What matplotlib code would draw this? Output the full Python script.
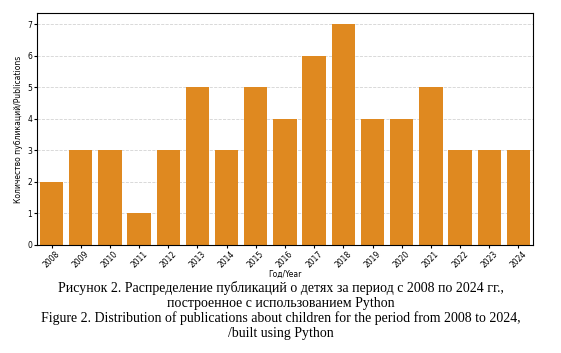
import matplotlib
matplotlib.use("Agg")
import matplotlib.pyplot as plt
import seaborn as sns

years = [2008, 2009, 2010, 2011, 2012, 2013, 2014, 2015, 2016,
         2017, 2018, 2019, 2020, 2021, 2022, 2023, 2024]
counts = [2, 3, 3, 1, 3, 5, 3, 5, 4, 6, 7, 4, 4, 5, 3, 3, 3]

caption = ("Рисунок 2. Распределение публикаций о детях за период с 2008 по 2024 гг.,\n"
           "построенное с использованием Python\n"
           "Figure 2. Distribution of publications about children for the period from 2008 to 2024,\n"
           "/built using Python")


def main():
    fig = plt.figure(figsize=(5.61, 3.53), dpi=100)
    ax = fig.add_axes([0.066, 0.306, 0.884, 0.657])
    sns.barplot(x=[str(y) for y in years], y=counts, color="darkorange", ax=ax)
    ax.set_xlabel("Год/Year", fontsize=5.5, labelpad=0)
    ax.set_ylabel("Количество публикаций/Publications", fontsize=5.5, labelpad=3)
    ax.tick_params(axis="both", labelsize=5.5, length=2, pad=1.5)
    plt.setp(ax.get_xticklabels(), rotation=45)
    ax.set_ylim(0, 7.35)
    ax.yaxis.grid(True, linestyle="--", color="lightgray", linewidth=0.6)
    ax.set_axisbelow(True)
    for s in ax.spines.values():
        s.set_linewidth(0.8)

    fig.text(0.5, 0.12, caption, ha="center", va="center", fontsize=10,
             family="Liberation Serif", linespacing=1.15)
    fig.savefig("out.png", dpi=100)


if __name__ == "__main__":
    main()
